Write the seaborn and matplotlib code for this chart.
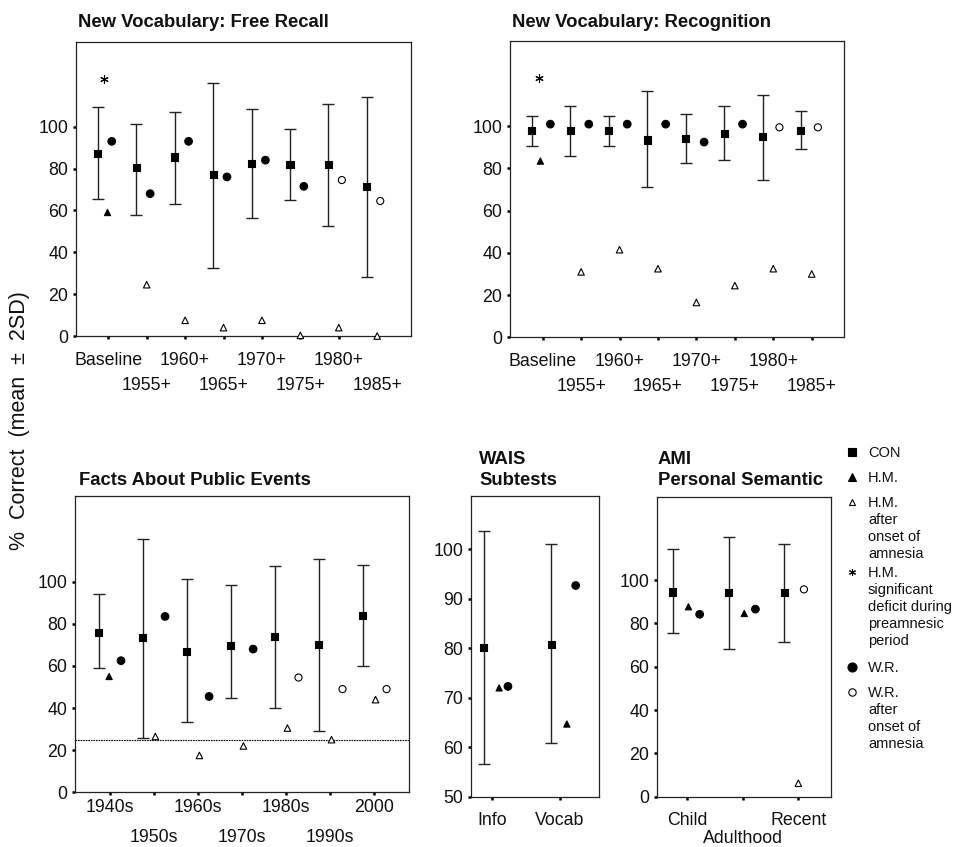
import numpy as np
import pandas as pd
import matplotlib
matplotlib.use("Agg")
import matplotlib.pyplot as plt
from matplotlib.lines import Line2D
from matplotlib.ticker import NullLocator
import seaborn as sns

nan = np.nan

# ---------------- data ----------------
fr_labels = ["Baseline", "1955+", "1960+", "1965+", "1970+", "1975+", "1980+", "1985+"]
fr_con = [87, 80.5, 85.5, 77, 82.5, 82, 82, 71.5]
fr_con_hi = [109.5, 101.5, 107, 121, 108.5, 99, 111, 114]
fr_con_lo = [65.5, 58, 63, 32.5, 56.5, 65, 52.5, 28]
fr_hm = [59, nan, nan, nan, nan, nan, nan, nan]
fr_hm_after = [nan, 24.5, 7.5, 4, 7.5, 0.3, 4, 0]
fr_wr = [93, 68, 93, 76, 84, 71.5, nan, nan]
fr_wr_after = [nan, nan, nan, nan, nan, nan, 74.5, 64.5]
fr_star = [123, nan, nan, nan, nan, nan, nan, nan]

rc_labels = ["Baseline", "1955+", "1960+", "1965+", "1970+", "1975+", "1980+", "1985+"]
rc_con = [98, 98, 98, 93.5, 94, 96.5, 95, 98]
rc_con_hi = [105, 109.5, 105, 116.5, 106, 109.5, 115, 107]
rc_con_lo = [90.5, 86, 90.5, 71, 82.5, 84, 74.5, 89]
rc_hm = [83.5, nan, nan, nan, nan, nan, nan, nan]
rc_hm_after = [nan, 31, 41.5, 32.5, 16.5, 24.5, 32.5, 30]
rc_wr = [101, 101, 101, 101, 92.5, 101, nan, nan]
rc_wr_after = [nan, nan, nan, nan, nan, nan, 99.5, 99.5]
rc_star = [123, nan, nan, nan, nan, nan, nan, nan]

pe_labels = ["1940s", "1950s", "1960s", "1970s", "1980s", "1990s", "2000"]
pe_con = [76, 73.5, 67, 69.5, 74, 70, 84]
pe_con_hi = [94, 120.5, 101.5, 98.5, 107.5, 111, 108]
pe_con_lo = [59, 26, 33.5, 45, 40, 29, 60]
pe_hm = [55, nan, nan, nan, nan, nan, nan]
pe_hm_after = [nan, 26.5, 17.5, 22, 30.5, 25, 44]
pe_wr = [62.5, 83.5, 45.5, 68, nan, nan, nan]
pe_wr_after = [nan, nan, nan, nan, 54.5, 49, 49]
pe_chance = 25

wais_labels = ["Info", "Vocab"]
wais_con = [80.2, 80.7]
wais_con_hi = [103.8, 101]
wais_con_lo = [56.6, 60.8]
wais_hm = [72, 64.7]
wais_hm_after = [nan, nan]
wais_wr = [72.3, 92.7]
wais_wr_after = [nan, nan]

ami_labels = ["Child", "Adulthood", "Recent"]
ami_con = [94.5, 94.3, 94.3]
ami_con_hi = [114.3, 119.7, 116.8]
ami_con_lo = [75.7, 68.3, 71.5]
ami_hm = [87.7, 84.6, nan]
ami_hm_after = [nan, nan, 6.2]
ami_wr = [84.2, 86.6, nan]
ami_wr_after = [nan, nan, 95.7]

legend_labels = ["CON", "H.M.", "H.M.\nafter\nonset of\namnesia",
                 "H.M.\nsignificant\ndeficit during\npreamnesic\nperiod",
                 "W.R.", "W.R.\nafter\nonset of\namnesia"]

# ---------------- style ----------------
sns.set_theme(style="ticks")
plt.rcParams["font.family"] = ["Liberation Sans", "DejaVu Sans"]
plt.rcParams["axes.linewidth"] = 0.9
plt.rcParams["axes.edgecolor"] = "#222222"

W, H = 969, 847
fig = plt.figure(figsize=(W / 100, H / 100), dpi=100)
fig.patch.set_facecolor("white")

INK = "#111111"
GROUPS = ["CON", "HM", "HM after", "WR", "WR after"]
PALETTE = {"CON": "black", "HM": "black", "HM after": "white", "WR": "black", "WR after": "white"}
MARKERS = {"CON": "s", "HM": "^", "HM after": "^", "WR": "o", "WR after": "o"}
SIZES = {"CON": 26, "HM": 20, "HM after": 22, "WR": 30, "WR after": 26}
ASTER = (6, 2, 0)


def rect(l, r, t, b):
    return [l / W, 1 - b / H, (r - l) / W, (b - t) / H]


def panel(rect_px, labels, con, hi, lo, hm, hm_after, wr, wr_after, offs,
          xlim, ylim, yticks, pad_major, pad_minor, star=None, star_off=0.0, chance=None):
    ax = fig.add_axes(rect(*rect_px))
    n = len(labels)
    idx = np.arange(n)
    series = {"CON": con, "HM": hm, "HM after": hm_after, "WR": wr, "WR after": wr_after}
    rows = []
    for g in GROUPS:
        for i, v in enumerate(series[g]):
            if not np.isnan(v):
                rows.append({"x": i + offs[g], "y": v, "group": g})
    df = pd.DataFrame(rows)
    con = np.asarray(con, float)
    ax.errorbar(idx + offs["CON"], con, yerr=[con - np.asarray(lo), np.asarray(hi) - con],
                fmt="none", ecolor="#222222", elinewidth=1.0, capsize=4.6, capthick=1.0, zorder=2)
    if chance is not None:
        ax.axhline(chance, color="black", lw=0.8, ls=(0, (1.5, 0.8)), zorder=1)
    sns.scatterplot(data=df, x="x", y="y", hue="group", style="group", size="group",
                    palette=PALETTE, markers=MARKERS, sizes=SIZES,
                    hue_order=[g for g in GROUPS if g in set(df["group"])],
                    edgecolor="black", linewidth=0.8, legend=False, ax=ax,
                    clip_on=False, zorder=3)
    if star is not None:
        ax.plot(idx + star_off, star, ls="none", marker=ASTER, ms=6, mew=0.8, color="black")
    ax.set_xlim(*xlim)
    ax.set_ylim(*ylim)
    ax.set_xlabel("")
    ax.set_ylabel("")
    ax.set_xticks(idx[0::2])
    ax.set_xticklabels(labels[0::2])
    ax.set_xticks(idx[1::2], minor=True)
    ax.set_xticklabels(labels[1::2], minor=True)
    ax.set_yticks(yticks)
    ax.yaxis.set_minor_locator(NullLocator())
    ax.tick_params(which="both", direction="out", length=2.5, width=1.8, color="black",
                   labelsize=12.8, labelcolor=INK)
    ax.tick_params(axis="x", which="major", pad=pad_major)
    ax.tick_params(axis="x", which="minor", pad=pad_minor)
    ax.tick_params(axis="y", pad=3)
    for s in ax.spines.values():
        s.set_visible(True)
        s.set_color("#222222")
        s.set_linewidth(0.9)
    ax.set_facecolor("white")
    return ax


off_top = {"CON": -0.27, "HM": -0.02, "HM after": 0.0, "WR": 0.09, "WR after": 0.08}
off_rec = {"CON": -0.28, "HM": -0.06, "HM after": 0.0, "WR": 0.2, "WR after": 0.16}
off_pe = {"CON": -0.26, "HM": -0.02, "HM after": 0.03, "WR": 0.25, "WR after": 0.28}
off_wais = {"CON": -0.13, "HM": 0.1, "HM after": 0.1, "WR": 0.23, "WR after": 0.23}
off_ami = {"CON": -0.25, "HM": 0.03, "HM after": 0.0, "WR": 0.23, "WR after": 0.1}

panel((76, 411, 41.7, 336), fr_labels, fr_con, fr_con_hi, fr_con_lo, fr_hm, fr_hm_after,
      fr_wr, fr_wr_after, off_top, (-0.84, 7.88), (0, 140.6), [0, 20, 40, 60, 80, 100],
      8.9, 26.9, star=fr_star, star_off=-0.12)
panel((510, 844, 41, 337.3), rc_labels, rc_con, rc_con_hi, rc_con_lo, rc_hm, rc_hm_after,
      rc_wr, rc_wr_after, off_rec, (-0.85, 7.84), (0, 140.4), [0, 20, 40, 60, 80, 100],
      8.9, 26.9, star=rc_star, star_off=-0.09)
panel((75, 409, 496, 792.3), pe_labels, pe_con, pe_con_hi, pe_con_lo, pe_hm, pe_hm_after,
      pe_wr, pe_wr_after, off_pe, (-0.795, 6.79), (0, 140.7), [0, 20, 40, 60, 80, 100],
      2.4, 24.0, chance=pe_chance)
panel((470.7, 598.7, 496, 796.7), wais_labels, wais_con, wais_con_hi, wais_con_lo, wais_hm,
      wais_hm_after, wais_wr, wais_wr_after, off_wais, (-0.32, 1.57), (50, 110.8),
      [50, 60, 70, 80, 90, 100], 8.6, 8.6)
panel((656.7, 830.7, 496.7, 796.7), ami_labels, ami_con, ami_con_hi, ami_con_lo, ami_hm,
      ami_hm_after, ami_wr, ami_wr_after, off_ami, (-0.54, 2.58), (0, 138.5),
      [0, 20, 40, 60, 80, 100], 8.6, 21.3)

# ---------------- titles ----------------
TFS = 13.3
t_half = 0.358 * TFS * 100 / 72


def title(x, ys, lines):
    for y, line in zip(ys, lines):
        fig.text(x / W, 1 - (y + t_half) / H, line, fontsize=TFS, fontweight="bold",
                 ha="left", va="baseline", color=INK)


title(78.3, [20], ["New Vocabulary: Free Recall"])
title(512, [20], ["New Vocabulary: Recognition"])
title(79.3, [478], ["Facts About Public Events"])
title(479, [457.5, 478.3], ["WAIS", "Subtests"])
title(658, [457.5, 478.3], ["AMI", "Personal Semantic"])

# ---------------- y label ----------------
fig.text(20 / W, 1 - 421 / H, "%  Correct  (mean  \u00b1  2SD)", rotation=90, fontsize=15.5,
         ha="center", va="center", color=INK)

# ---------------- legend ----------------
LFS = 10.5
l_half = 0.358 * LFS * 100 / 72
leg_y = [451.7, 476.7, 501.7, 571.7, 667, 691.7]
leg_mk = [("s", "black", 6), ("^", "black", 6), ("^", "white", 5), (ASTER, "black", 5),
          ("o", "black", 6.5), ("o", "white", 5.3)]
line_step = 17.1
for y0, lab, (mk, fc, ms) in zip(leg_y, legend_labels, leg_mk):
    fig.add_artist(Line2D([852 / W], [1 - y0 / H], marker=mk, ms=ms, mfc=fc, mec="black",
                          mew=0.8, color="black", ls="none", transform=fig.transFigure))
    for k, line in enumerate(lab.split("\n")):
        fig.text(868 / W, 1 - (y0 + k * line_step + l_half) / H, line, fontsize=LFS,
                 ha="left", va="baseline", color=INK)

fig.savefig("out.png", dpi=100, facecolor="white")
